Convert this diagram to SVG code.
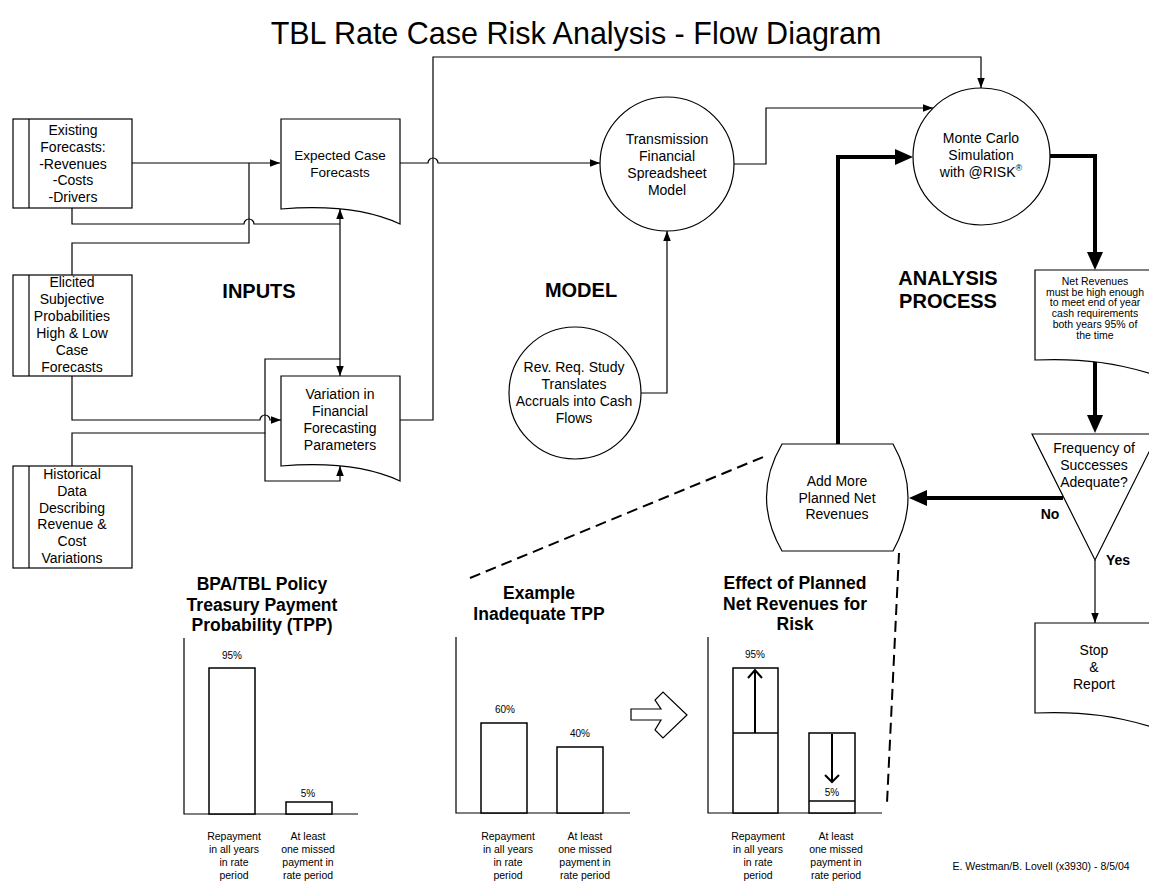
<svg xmlns="http://www.w3.org/2000/svg" width="1149" height="884" viewBox="0 0 1149 884">
<style>
.ln{fill:none;stroke:#000;stroke-width:1.2}
.th{fill:none;stroke:#000;stroke-width:4}
.dash{fill:none;stroke:#000;stroke-width:2;stroke-dasharray:11,6}
.sh{fill:#fff;stroke:#000;stroke-width:1.2}
.bar{fill:#fff;stroke:#000;stroke-width:1.5}
.ax{fill:none;stroke:#000;stroke-width:1.2}
text{font-family:"Liberation Sans",Arial,sans-serif;fill:#000;text-anchor:middle}
.n{font-size:14px}
.sm{font-size:10.5px}
.pc{font-size:10px}
.b{font-weight:bold}
.ct{font-size:17.5px;font-weight:bold}
.sec{font-size:20px;font-weight:bold}
</style>
<defs>
<marker id="a" markerUnits="userSpaceOnUse" markerWidth="11" markerHeight="8" refX="10" refY="3.75" orient="auto">
<path d="M0,0 L10,3.75 L0,7.5 Z" fill="#000"/>
</marker>
<marker id="A" markerUnits="userSpaceOnUse" markerWidth="19" markerHeight="17" refX="0" refY="8" orient="auto">
<path d="M0,0 L18,8 L0,16 Z" fill="#000"/>
</marker>
</defs>
<rect width="1149" height="884" fill="#fff"/>
<text x="576" y="44" style="font-size:30.5px">TBL Rate Case Risk Analysis - Flow Diagram</text>

<g id="connectors">
<path class="ln" d="M132,163 H280" marker-end="url(#a)"/>
<path class="ln" d="M249,163 V243 H72 V275"/>
<path class="ln" d="M72,208 V224 H244 A5,5 0 0 1 254,224 H340"/>
<path class="ln" d="M340,292 V209" marker-end="url(#a)"/>
<path class="ln" d="M340,292 V376" marker-end="url(#a)"/>
<path class="ln" d="M72,376 V420 H260 A5,5 0 0 1 270,420 H281" marker-end="url(#a)"/>
<path class="ln" d="M72,466 V433 H265 V359 H340"/>
<path class="ln" d="M265,433 V481 H340 V466" marker-end="url(#a)"/>
<path class="ln" d="M400,163 H428 A5,5 0 0 1 438,163 H600" marker-end="url(#a)"/>
<path class="ln" d="M400,420 H433 V57 H981 V88" marker-end="url(#a)"/>
<path class="ln" d="M734,164 H766 V108 H933" marker-end="url(#a)"/>
<path class="ln" d="M641,393 H667 V231" marker-end="url(#a)"/>
<path class="th" d="M1050,156 H1095 V252" marker-end="url(#A)"/>
<path class="th" d="M1095,360 V415" marker-end="url(#A)"/>
<path class="th" d="M1063,498 H927" marker-end="url(#A)"/>
<path class="th" d="M838,444 V157 H895" marker-end="url(#A)"/>
<path class="ln" d="M1095,560 V623" marker-end="url(#a)"/>
<path class="dash" d="M470,578 L768,455"/>
<path class="dash" d="M899,553 L887,803"/>
</g>

<g id="existing">
<rect class="sh" x="13" y="119" width="119" height="89"/>
<line class="ln" x1="29" y1="119" x2="29" y2="208"/>
<text class="n" x="73" y="135">Existing<tspan x="73" dy="16.8">Forecasts:</tspan><tspan x="73" dy="16.8">-Revenues</tspan><tspan x="73" dy="16.8">-Costs</tspan><tspan x="73" dy="16.8">-Drivers</tspan></text>
</g>

<g id="elicited">
<rect class="sh" x="13" y="275" width="119" height="101"/>
<line class="ln" x1="29" y1="275" x2="29" y2="376"/>
<text class="n" x="72" y="287">Elicited<tspan x="72" dy="16.9">Subjective</tspan><tspan x="72" dy="16.9">Probabilities</tspan><tspan x="72" dy="16.9">High &amp; Low</tspan><tspan x="72" dy="16.9">Case</tspan><tspan x="72" dy="16.9">Forecasts</tspan></text>
</g>

<g id="historical">
<rect class="sh" x="13" y="466" width="119" height="102"/>
<line class="ln" x1="29" y1="466" x2="29" y2="568"/>
<text class="n" x="72" y="479">Historical<tspan x="72" dy="16.8">Data</tspan><tspan x="72" dy="16.8">Describing</tspan><tspan x="72" dy="16.8">Revenue &amp;</tspan><tspan x="72" dy="16.8">Cost</tspan><tspan x="72" dy="16.8">Variations</tspan></text>
</g>

<g id="expected">
<path class="sh" d="M281,119 H400 V224 C370,210 330,205 281,209 Z"/>
<text class="n" x="340" y="160" style="font-size:13.5px">Expected Case<tspan x="340" dy="17">Forecasts</tspan></text>
</g>

<g id="variation">
<path class="sh" d="M281,376 H400 V481 C370,467 330,462 281,466 Z"/>
<text class="n" x="340" y="399">Variation in<tspan x="340" dy="17">Financial</tspan><tspan x="340" dy="17">Forecasting</tspan><tspan x="340" dy="17">Parameters</tspan></text>
</g>

<g id="transmission">
<circle class="sh" cx="667" cy="164" r="67"/>
<text class="n" x="667" y="144">Transmission<tspan x="667" dy="17">Financial</tspan><tspan x="667" dy="17">Spreadsheet</tspan><tspan x="667" dy="17">Model</tspan></text>
</g>

<g id="revreq">
<circle class="sh" cx="575" cy="393" r="66"/>
<text class="n" x="574" y="372">Rev. Req. Study<tspan x="574" dy="17">Translates</tspan><tspan x="574" dy="17">Accruals into Cash</tspan><tspan x="574" dy="17">Flows</tspan></text>
</g>

<g id="montecarlo">
<circle class="sh" cx="981.5" cy="156.5" r="68.5"/>
<text class="n" x="981" y="143">Monte Carlo<tspan x="981" dy="17">Simulation</tspan><tspan x="981" dy="17">with @RISK</tspan><tspan dy="-6" style="font-size:9px">®</tspan></text>
</g>

<g id="netrev">
<path class="sh" d="M1035,270 H1170 V380 C1120,362 1080,358 1035,360 Z"/>
<text class="sm" x="1095" y="285">Net Revenues<tspan x="1095" dy="10.7">must be high enough</tspan><tspan x="1095" dy="10.7">to meet end of year</tspan><tspan x="1095" dy="10.7">cash requirements</tspan><tspan x="1095" dy="10.7">both years 95% of</tspan><tspan x="1095" dy="10.7">the time</tspan></text>
</g>

<g id="decision">
<path class="sh" d="M1032,434 L1158,434 L1095,560 Z"/>
<text class="n" x="1094" y="453">Frequency of<tspan x="1094" dy="17">Successes</tspan><tspan x="1094" dy="17">Adequate?</tspan></text>
<text class="n b" x="1050" y="519">No</text>
<text class="n b" x="1118" y="565">Yes</text>
</g>

<g id="addmore">
<path class="sh" d="M782,444 H893 Q923,497 893,551 H782 Q751,497 782,444 Z"/>
<text class="n" x="837" y="486">Add More<tspan x="837" dy="16.5">Planned Net</tspan><tspan x="837" dy="16.5">Revenues</tspan></text>
</g>

<g id="stop">
<path class="sh" d="M1035,623 H1170 V733 C1120,715 1080,711 1035,713 Z"/>
<text class="n" x="1094" y="655">Stop<tspan x="1094" dy="17">&amp;</tspan><tspan x="1094" dy="17">Report</tspan></text>
</g>

<g id="labels">
<text class="sec" x="259" y="298">INPUTS</text>
<text class="sec" x="581" y="297">MODEL</text>
<text class="sec" x="948" y="285">ANALYSIS<tspan x="948" dy="23">PROCESS</tspan></text>
</g>

<g id="chart1">
<text class="ct" x="262" y="590">BPA/TBL Policy<tspan x="262" dy="20.5">Treasury Payment</tspan><tspan x="262" dy="20.5">Probability (TPP)</tspan></text>
<path class="ax" d="M184,638 V814 H358"/>
<rect class="bar" x="209" y="668" width="46" height="146"/>
<rect class="bar" x="286" y="802" width="46" height="12"/>
<text class="pc" x="232" y="659">95%</text>
<text class="pc" x="308" y="797">5%</text>
<text class="sm" x="234" y="840">Repayment<tspan x="234" dy="13">in all years</tspan><tspan x="234" dy="13">in rate</tspan><tspan x="234" dy="13">period</tspan></text>
<text class="sm" x="308" y="840">At least<tspan x="308" dy="13">one missed</tspan><tspan x="308" dy="13">payment in</tspan><tspan x="308" dy="13">rate period</tspan></text>
</g>

<g id="chart2">
<text class="ct" x="539" y="599">Example<tspan x="539" dy="20.5">Inadequate TPP</tspan></text>
<path class="ax" d="M456,637 V813 H630"/>
<rect class="bar" x="481" y="723" width="46" height="90"/>
<rect class="bar" x="557" y="747" width="46" height="66"/>
<text class="pc" x="505" y="713">60%</text>
<text class="pc" x="580" y="737">40%</text>
<text class="sm" x="508" y="840">Repayment<tspan x="508" dy="13">in all years</tspan><tspan x="508" dy="13">in rate</tspan><tspan x="508" dy="13">period</tspan></text>
<text class="sm" x="585" y="840">At least<tspan x="585" dy="13">one missed</tspan><tspan x="585" dy="13">payment in</tspan><tspan x="585" dy="13">rate period</tspan></text>
</g>

<g id="blockarrow">
<path class="sh" d="M631,709 H661 L655,700 L663,692 L687,715 L663,738 L655,730 L661,720 H631 Z"/>
</g>

<g id="chart3">
<text class="ct" x="795" y="589">Effect of Planned<tspan x="795" dy="20.5">Net Revenues for</tspan><tspan x="795" dy="20.5">Risk</tspan></text>
<path class="ax" d="M708,637 V813 H882"/>
<rect class="bar" x="733" y="668" width="45" height="145"/>
<line class="bar" x1="733" y1="733" x2="778" y2="733"/>
<rect class="bar" x="809" y="733" width="46" height="80"/>
<line class="bar" x1="809" y1="801" x2="855" y2="801"/>
<path fill="none" stroke="#000" stroke-width="2" d="M755,733 V670 M748,678 L755,670 L762,678"/>
<path fill="none" stroke="#000" stroke-width="2" d="M832,734 V782 M825,775 L832,782 L839,775"/>
<text class="pc" x="755" y="658">95%</text>
<text class="pc" x="832" y="796">5%</text>
<text class="sm" x="758" y="840">Repayment<tspan x="758" dy="13">in all years</tspan><tspan x="758" dy="13">in rate</tspan><tspan x="758" dy="13">period</tspan></text>
<text class="sm" x="836" y="840">At least<tspan x="836" dy="13">one missed</tspan><tspan x="836" dy="13">payment in</tspan><tspan x="836" dy="13">rate period</tspan></text>
</g>

<text class="sm" x="1041" y="870">E. Westman/B. Lovell (x3930) - 8/5/04</text>
</svg>
